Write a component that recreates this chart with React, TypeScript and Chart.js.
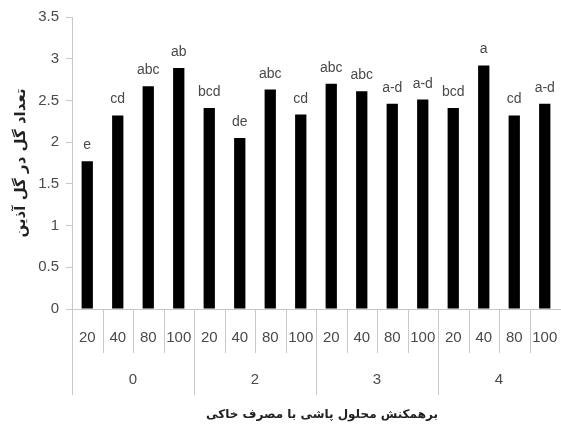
import React, { useEffect, useRef } from "react";
import { Chart, registerables } from "chart.js";

Chart.register(...registerables);

// Foliar spray rate (sub-category) within each soil application level (group)
const sprayRates = ["20", "40", "80", "100", "20", "40", "80", "100", "20", "40", "80", "100", "20", "40", "80", "100"];
const soilLevels = ["0", "2", "3", "4"];
const flowersPerInflorescence = [1.77, 2.32, 2.67, 2.89, 2.41, 2.05, 2.63, 2.33, 2.7, 2.61, 2.46, 2.51, 2.41, 2.92, 2.32, 2.46];
const meanLetters = ["e", "cd", "abc", "ab", "bcd", "de", "abc", "cd", "abc", "abc", "a-d", "a-d", "bcd", "a", "cd", "a-d"];
const yTicks = [0, 0.5, 1, 1.5, 2, 2.5, 3, 3.5];

const xTitle = "برهمکنش محلول پاشی با مصرف خاکی";
const yTitle = "تعداد گل در گل آذین";

const LINE = "#c8c8c8";
const TEXT = "#4a4a4a";

// Letters of the mean comparison above each bar
const letterLabels = {
  id: "letterLabels",
  afterDatasetsDraw(chart: any) {
    const { ctx } = chart;
    const meta = chart.getDatasetMeta(0);
    ctx.save();
    ctx.font = "14px 'Liberation Sans', sans-serif";
    ctx.fillStyle = TEXT;
    ctx.textAlign = "center";
    ctx.textBaseline = "alphabetic";
    meta.data.forEach((bar: any, i: number) => {
      ctx.fillText(meanLetters[i], bar.x, bar.y - 12);
    });
    ctx.restore();
  },
};

// Two-level category axis: separators, the soil level row and the axis title
const groupedAxis = {
  id: "groupedAxis",
  afterDraw(chart: any) {
    const { ctx, chartArea } = chart;
    const x = chart.scales.x;
    const step = x.getPixelForValue(1) - x.getPixelForValue(0);
    const edge = (i: number) => x.getPixelForValue(i) - step / 2;
    const perGroup = sprayRates.length / soilLevels.length;
    const base = chartArea.bottom;
    ctx.save();
    ctx.strokeStyle = LINE;
    ctx.lineWidth = 1;
    // separators between categories; the outer right edge has none
    for (let i = 0; i < sprayRates.length; i++) {
      const px = Math.round(edge(i)) + 0.5;
      const isGroup = i % perGroup === 0;
      ctx.beginPath();
      ctx.moveTo(px, base);
      ctx.lineTo(px, base + (isGroup ? 86 : 44));
      ctx.stroke();
    }
    ctx.font = "15px 'Liberation Sans', sans-serif";
    ctx.fillStyle = TEXT;
    ctx.textAlign = "center";
    ctx.textBaseline = "middle";
    soilLevels.forEach((lvl, g) => {
      const cx = (edge(g * perGroup) + edge((g + 1) * perGroup)) / 2;
      ctx.fillText(lvl, cx, base + 71);
    });
    ctx.font = "bold 12px 'DejaVu Sans', sans-serif";
    ctx.fillStyle = "#222222";
    ctx.fillText(xTitle, (chartArea.left + chartArea.right) / 2 + 6, base + 106);
    ctx.restore();
  },
};

export default function App() {
  const canvasRef = useRef<HTMLCanvasElement | null>(null);

  useEffect(() => {
    if (!canvasRef.current) return;
    const chart = new Chart(canvasRef.current, {
      type: "bar",
      data: {
        labels: sprayRates,
        datasets: [
          {
            data: flowersPerInflorescence,
            backgroundColor: "#000000",
            barPercentage: 0.37,
            categoryPercentage: 1,
          },
        ],
      },
      options: {
        responsive: false,
        animation: false,
        layout: { padding: { top: 17, right: 1, left: 4, bottom: 0 } },
        plugins: {
          legend: { display: false },
          tooltip: { enabled: false },
        },
        scales: {
          x: {
            offset: true,
            grid: { display: false, drawTicks: false },
            border: { display: true, color: LINE },
            ticks: {
              padding: 20,
              color: TEXT,
              font: { family: "'Liberation Sans', sans-serif", size: 15 },
              maxRotation: 0,
              autoSkip: false,
            },
            afterFit(scale: any) {
              scale.height = 121;
              scale.paddingLeft = 0;
              scale.paddingRight = 0;
            },
          },
          y: {
            min: 0,
            max: 3.5,
            afterBuildTicks(scale: any) {
              scale.ticks = yTicks.map((v) => ({ value: v }));
            },
            grid: { drawOnChartArea: false, drawTicks: true, tickLength: 6, color: LINE },
            border: { display: true, color: LINE },
            ticks: {
              padding: 7,
              color: TEXT,
              font: { family: "'Liberation Sans', sans-serif", size: 15 },
              callback: (v: any) => String(v),
            },
            title: {
              display: true,
              text: yTitle,
              color: "#222222",
              font: { family: "'DejaVu Sans', sans-serif", size: 15, weight: "bold" },
              padding: { top: 8, bottom: 0 },
            },
            afterFit(scale: any) {
              scale.width = 68;
            },
          },
        },
      },
      plugins: [letterLabels, groupedAxis],
    });
    return () => chart.destroy();
  }, []);

  return (
    <div style={{ position: "fixed", left: 0, top: 0, width: 561, height: 430, background: "#ffffff" }}>
      <canvas ref={canvasRef} width={561} height={430} />
    </div>
  );
}
